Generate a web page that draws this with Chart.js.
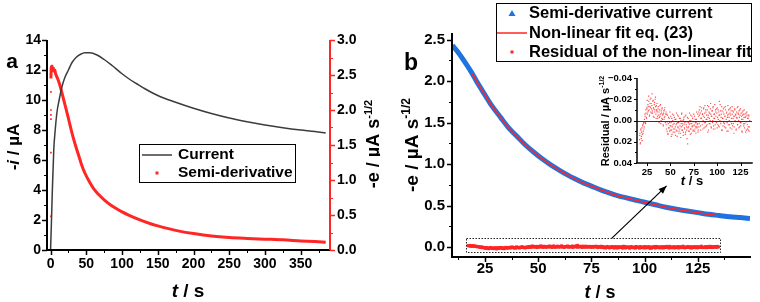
<!DOCTYPE html>
<html><head><meta charset="utf-8">
<script src="https://cdn.jsdelivr.net/npm/chart.js@4/dist/chart.umd.min.js"></script>
<style>
html,body{margin:0;padding:0;background:#fff;width:760px;height:302px;overflow:hidden}
.box{position:absolute}
</style></head><body>
<div class="box" style="left:0;top:0;width:380px;height:302px"><canvas id="ca"></canvas></div>
<div class="box" style="left:380px;top:0;width:380px;height:302px"><canvas id="cb"></canvas></div>
<div class="box" style="left:580px;top:60px;width:180px;height:130px"><canvas id="cc"></canvas></div>
<script>
// ---------- Panel a data ----------
const curT = [0,0.5,1.3,2.5,4.5,6.5,9,12,16,20,25,30,36,42,48,55,65,75,86,100,110,120,132,150,175,200,225,250,275,300,325,350,370,385];
const curI = [0,0.8,2.0,4.0,6.7,8.0,9.2,10.0,10.9,11.5,12.0,12.5,12.85,13.05,13.15,13.15,13.0,12.7,12.3,11.75,11.4,11.1,10.75,10.3,9.85,9.45,9.1,8.8,8.55,8.33,8.15,8.0,7.9,7.8];
const semiT = [0.5,1,1.5,2,3,4,5,6,7,9,11.6,14,16,18.5,21,24,27.8,31,34.7,39,44,48,53,60,67,75,85,100,110,125,140,150,165,180,200,225,250,275,300,325,350,370,385];
const semiE = [2.45,2.62,2.55,2.63,2.58,2.6,2.55,2.57,2.52,2.47,2.4,2.32,2.24,2.14,2.04,1.92,1.76,1.63,1.5,1.36,1.2,1.1,1.0,0.88,0.795,0.715,0.635,0.545,0.495,0.43,0.375,0.345,0.305,0.27,0.235,0.2,0.178,0.165,0.155,0.145,0.13,0.12,0.11];
const spikeT = [0.5,0.5,0.5,0.5,0.5,0.5];
const spikeE = [2.26,2.0,1.93,1.87,1.39,0.48];
const aTimeTicks = [0,50,100,150,200,250,300,350];
const aTimeMinor = [25,75,125,175,225,275,325,375];
const aCurTicks = [0,2,4,6,8,10,12,14];
const aCurMinor = [1,3,5,7,9,11,13];
const aSemiTicks = [0,0.5,1.0,1.5,2.0,2.5,3.0];
const aSemiMinor = [0.25,0.75,1.25,1.75,2.25,2.75];

// ---------- Panel b data ----------
const bT = [9.7,12,15,18.3,21,24.6,28,32.4,36,40.2,44,48.1,52,55.9,60,63.7,67,71.5,75,79.3,83,87.2,91,95,100,105,110,115,120,125,130,135,140,145,149.5];
const bE = [2.43,2.36,2.25,2.12,2.00,1.85,1.71,1.56,1.44,1.33,1.23,1.14,1.06,0.99,0.925,0.87,0.825,0.77,0.735,0.69,0.655,0.62,0.595,0.57,0.54,0.51,0.48,0.455,0.435,0.415,0.395,0.38,0.365,0.355,0.345];
const fitT = [19,21,24.6,28,32.4,36,40.2,44,48.1,52,55.9,60,63.7,67,71.5,75,79.3,83,87.2,91,95,100,105,110,115,120,125,130,133];
const fitE = [2.09,2.00,1.85,1.71,1.56,1.44,1.33,1.23,1.14,1.06,0.99,0.925,0.87,0.825,0.77,0.735,0.69,0.655,0.62,0.595,0.57,0.54,0.51,0.48,0.455,0.435,0.415,0.395,0.385];
// residuals sampled every 0.5 s, two interleaved read-outs (offset 0.25 s)
const residStart = 17, residStartB = 17.25, residStep = 0.5;
const resid = [
 0.018,0.012,0.021,0.009,0.015,0.007,0.013,0.004,0.010,0.002,0.006,
 0.001,-0.004,0.003,-0.007,-0.002,
 -0.011,-0.006,-0.015,-0.009,-0.018,-0.004,-0.013,-0.020,-0.008,-0.016,-0.011,-0.025,-0.007,-0.019,-0.012,-0.003,-0.017,-0.010,-0.022,-0.006,-0.014,-0.009,
 -0.008,-0.002,-0.013,-0.005,0.002,-0.010,-0.004,-0.015,0.000,-0.007,-0.011,-0.001,-0.006,0.005,-0.009,-0.003,-0.012,0.001,-0.006,
 0.004,-0.006,0.010,0.001,0.013,-0.003,0.007,0.002,-0.008,0.009,0.005,0.015,-0.002,0.006,0.000,0.011,-0.005,0.003,0.008,-0.001,
 0.014,0.004,-0.007,0.010,0.002,0.006,-0.004,0.012,0.001,0.008,-0.002,0.016,0.003,-0.006,0.009,0.005,0.000,0.011,-0.003,0.007,
 0.002,0.013,-0.005,0.004,0.009,0.001,0.022,-0.002,0.006,0.010,-0.007,0.003,0.008,0.000,0.012,-0.004,0.005,0.001,0.009,-0.006,
 0.004,0.010,-0.001,0.006,0.002,-0.008,0.007,0.003,0.011,
 -0.004,0.006,-0.010,0.001,-0.007,0.009,-0.002,-0.012,0.004,-0.006,0.000,-0.011,0.007,-0.003,-0.014,0.002,-0.008,0.005,-0.001,-0.010,
 0.011,-0.005,-0.013,0.003,-0.007,0.000,-0.016,0.006,-0.004,-0.009,0.002,-0.012,0.008,-0.002,-0.006,-0.015,0.004,-0.008,0.001,-0.011,
 0.007,-0.003,-0.010,0.005,-0.005,-0.018,0.000,-0.009,0.003,-0.006,-0.013,0.009,-0.002,-0.008,0.002,-0.012,0.006,-0.004,-0.010,0.001,
 -0.007,0.010,-0.003,-0.014,0.004,-0.006,0.000,-0.011,0.007,-0.005,-0.009,0.003,-0.013,0.005,-0.002,-0.008,0.012,-0.004,-0.010,0.001,
 -0.006,0.008,-0.003,-0.012,0.004,-0.007,0.000,-0.009,0.006,-0.005,-0.011,0.002,-0.004,0.010,-0.008,-0.001,-0.006,0.005,-0.010,0.003,
 -0.003,0.011,-0.007,0.001,-0.005,0.008,-0.002,0.009,-0.004,0.006
];
const residB = [
 0.014,0.022,0.008,0.017,0.011,0.019,0.005,0.012,0.003,0.008,-0.001,
 -0.006,0.002,-0.010,-0.003,-0.012,
 -0.019,-0.008,-0.013,-0.023,-0.010,-0.005,-0.016,-0.012,-0.021,-0.007,-0.014,-0.009,-0.018,-0.004,-0.011,-0.015,-0.008,-0.020,-0.013,-0.002,-0.010,-0.016,
 -0.004,-0.011,0.001,-0.008,-0.003,-0.014,-0.006,0.003,-0.009,-0.002,-0.012,-0.005,0.004,-0.007,-0.001,-0.010,-0.004,0.002,-0.008,
 0.008,0.001,-0.005,0.012,0.003,0.007,-0.002,0.010,0.005,-0.004,
 0.002,0.009,0.013,-0.006,0.004,0.008,0.001,-0.003,0.011,0.006,
 -0.001,0.009,0.003,0.015,-0.005,0.007,0.002,0.010,-0.002,0.005,
 0.012,0.000,0.006,-0.007,0.009,0.003,0.014,-0.001,0.004,0.008,
 -0.004,0.011,0.001,0.006,0.017,-0.003,0.007,0.002,0.010,0.004,
 0.000,0.013,-0.005,0.008,0.003,0.006,-0.002,0.010,0.001,0.005,
 -0.004,0.008,0.002,0.012,-0.001,0.006,0.004,-0.006,0.009,
 -0.008,0.003,-0.005,-0.013,0.005,-0.002,-0.009,0.001,-0.006,0.008,
 -0.004,-0.012,0.002,-0.007,0.006,-0.010,-0.001,-0.005,0.004,-0.014,
 -0.003,0.009,-0.008,-0.002,0.003,-0.011,-0.006,0.007,-0.004,-0.009,
 0.000,-0.013,0.005,-0.006,-0.002,0.008,-0.010,-0.004,0.002,-0.007,
 -0.012,0.004,-0.001,-0.008,0.006,-0.005,-0.015,0.001,-0.003,0.009,
 -0.009,-0.002,0.005,-0.011,-0.006,0.003,-0.004,-0.013,0.007,-0.001,
 -0.008,0.002,-0.005,0.010,-0.010,-0.003,0.004,-0.007,-0.012,0.001,
 -0.002,0.008,-0.006,-0.009,0.003,-0.004,0.006,-0.011,0.000,-0.005,
 0.009,-0.008,-0.002,0.004,-0.013,-0.006,0.007,-0.003,-0.010,0.002,
 0.005,-0.007,-0.001,0.011,-0.005,-0.009,0.003,-0.003,0.007,-0.006,
 0.001,-0.004,0.009,-0.008,0.004,-0.002,0.006,-0.005,0.010,0.000
];
const bTimeTicks = [25,50,75,100,125];
const bTimeMinor = [12.5,37.5,62.5,87.5,112.5,137.5];
const bETicks = [0,0.5,1.0,1.5,2.0,2.5];
const bEMinor = [0.25,0.75,1.25,1.75,2.25];
const insetResTicks = [-0.04,-0.02,0,0.02,0.04];
const insetResMinor = [-0.03,-0.01,0.01,0.03];
const insetTimeTicks = [25,50,75,100,125];

// ---------- helpers ----------
const FONT = "Arial, 'Liberation Sans', sans-serif";
const RED = 'rgb(255,38,38)';
const BLUE = 'rgb(30,115,225)';
const residPts = resid.map((r,k)=>({x: residStart + k*residStep, y: r}))
  .concat(residB.map((r,k)=>({x: residStartB + k*residStep, y: r})));
const xy = (xs, ys) => xs.map((x,k)=>({x, y: ys[k]}));

function tickMarks(ctx, scale, vals, len, color, lw){
  ctx.save(); ctx.strokeStyle=color; ctx.lineWidth=lw; ctx.beginPath();
  vals.forEach(v=>{
    const p = Math.round(scale.getPixelForValue(v))+0.5;
    if (scale.isHorizontal()){ ctx.moveTo(p, scale.top); ctx.lineTo(p, scale.top+len); }
    else if (scale.position==='left'){ ctx.moveTo(scale.right, p); ctx.lineTo(scale.right-len, p); }
    else { ctx.moveTo(scale.left, p); ctx.lineTo(scale.left+len, p); }
  });
  ctx.stroke(); ctx.restore();
}
function axisLine(ctx, scale, color, lw){
  const a = scale.chart.chartArea;
  ctx.save(); ctx.strokeStyle=color; ctx.lineWidth=lw; ctx.beginPath();
  if (scale.isHorizontal()){ ctx.moveTo(a.left-lw/2, a.bottom); ctx.lineTo(a.right+lw/2, a.bottom); }
  else if (scale.position==='left'){ ctx.moveTo(a.left, a.top); ctx.lineTo(a.left, a.bottom); }
  else { ctx.moveTo(a.right, a.top); ctx.lineTo(a.right, a.bottom); }
  ctx.stroke(); ctx.restore();
}
function richText(ctx, segs, cx, cy, size, rot){
  ctx.save(); ctx.translate(cx, cy); if (rot) ctx.rotate(rot);
  const fontFor = s => `${s.it?'italic ':''}bold ${s.sup? Math.round(size*0.62) : size}px ${FONT}`;
  let w = 0;
  segs.forEach(s=>{ ctx.font=fontFor(s); s.w=ctx.measureText(s.t).width; w+=s.w; });
  let x = -w/2; ctx.fillStyle='#000'; ctx.textBaseline='alphabetic'; ctx.textAlign='left';
  const base = size*0.36;
  segs.forEach(s=>{ ctx.font=fontFor(s); ctx.fillText(s.t, x, s.sup ? base-size*0.42 : base); x+=s.w; });
  ctx.restore();
}
function fixed(size){ return s => { if (s.isHorizontal()) s.height=size; else s.width=size; }; }
function setTicks(vals){ return s => { s.ticks = vals.map(v=>({value:v})); }; }
const base = {
  animation:false, responsive:true, maintainAspectRatio:false, events:[],
  plugins:{legend:{display:false}, tooltip:{enabled:false}}
};
const noGrid = {display:false, drawTicks:false};

// ---------- Chart A ----------
const decorA = {
  id:'decorA',
  afterDraw(chart){
    const ctx=chart.ctx, s=chart.scales;
    axisLine(ctx, s.x, '#000', 2); axisLine(ctx, s.y, '#000', 2); axisLine(ctx, s.y2, RED, 2);
    tickMarks(ctx, s.x, aTimeTicks, 5, '#000', 1.5); tickMarks(ctx, s.x, aTimeMinor, 3, '#000', 1);
    tickMarks(ctx, s.y, aCurTicks, 5, '#000', 1.5); tickMarks(ctx, s.y, aCurMinor, 3, '#000', 1);
    tickMarks(ctx, s.y2, aSemiTicks, 5, RED, 1.5); tickMarks(ctx, s.y2, aSemiMinor, 3, RED, 1);
    richText(ctx, [{t:'-'},{t:'i',it:true},{t:' / µA'}], 13, 147, 17, -Math.PI/2);
    richText(ctx, [{t:'-e / µA s'},{t:'-1/2',sup:true}], 373, 144, 18, -Math.PI/2);
    richText(ctx, [{t:'t',it:true},{t:' / s'}], 188, 290, 19, 0);
    richText(ctx, [{t:'a'}], 12, 60, 21, 0);
    // legend
    ctx.save();
    ctx.strokeStyle='#000'; ctx.lineWidth=1; ctx.strokeRect(139.5,144.5,156,38);
    ctx.strokeStyle='#3c3c3c'; ctx.lineWidth=1.5; ctx.beginPath(); ctx.moveTo(142,155); ctx.lineTo(172,155); ctx.stroke();
    ctx.fillStyle=RED; ctx.fillRect(155.5,171.5,3,3);
    ctx.fillStyle='#000'; ctx.font=`bold 15.5px ${FONT}`; ctx.textBaseline='middle';
    ctx.fillText('Current', 178, 155); ctx.fillText('Semi-derivative', 178, 173);
    ctx.restore();
  }
};
new Chart(document.getElementById('ca'), {
  type:'line',
  data:{datasets:[
    {label:'Current', data:xy(curT,curI), yAxisID:'y', borderColor:'#3c3c3c', borderWidth:1.5, pointRadius:0, cubicInterpolationMode:'monotone', order:1},
    {label:'Semi-derivative', data:xy(semiT,semiE), yAxisID:'y2', borderColor:RED, borderWidth:3, pointRadius:0, cubicInterpolationMode:'monotone', order:2},
    {label:'Semi-derivative early', data:xy(spikeT,spikeE), yAxisID:'y2', showLine:false, pointStyle:'rect', pointRadius:1.2, pointBackgroundColor:RED, pointBorderWidth:0, order:3}
  ]},
  options:{...base,
    layout:{padding:{top:40,left:0,right:0,bottom:0}},
    scales:{
      x:{type:'linear', position:'bottom', min:-5, max:391, afterFit:fixed(52), afterBuildTicks:setTicks(aTimeTicks),
         grid:noGrid, border:{display:false}, ticks:{padding:6, color:'#000', font:{family:FONT, size:14, weight:'bold'}, maxRotation:0}},
      y:{type:'linear', position:'left', min:0, max:14, afterFit:fixed(47), afterBuildTicks:setTicks(aCurTicks),
         grid:noGrid, border:{display:false}, ticks:{padding:6, color:'#000', font:{family:FONT, size:14, weight:'bold'}}},
      y2:{type:'linear', position:'right', min:0, max:3, afterFit:fixed(50), afterBuildTicks:setTicks(aSemiTicks),
         grid:noGrid, border:{display:false}, ticks:{padding:7, color:'#000', font:{family:FONT, size:14, weight:'bold'}, callback:v=>v.toFixed(1)}}
    }
  },
  plugins:[decorA]
});

// ---------- Chart B ----------
const decorB = {
  id:'decorB',
  afterDraw(chart){
    const ctx=chart.ctx, s=chart.scales;
    axisLine(ctx, s.x, '#000', 2); axisLine(ctx, s.y, '#000', 2);
    tickMarks(ctx, s.x, bTimeTicks, 5, '#000', 1.5); tickMarks(ctx, s.x, bTimeMinor, 3, '#000', 1);
    tickMarks(ctx, s.y, bETicks, 5, '#000', 1.5); tickMarks(ctx, s.y, bEMinor, 3, '#000', 1);
    richText(ctx, [{t:'-e / µA s'},{t:'-1/2',sup:true}], 31, 145, 19, -Math.PI/2);
    richText(ctx, [{t:'t',it:true},{t:' / s'}], 220, 292, 18, 0);
    richText(ctx, [{t:'b'}], 31, 62, 23, 0);
    // zoom box around residual band and arrow to the inset (data units)
    const X = v=>s.x.getPixelForValue(v), Y = v=>s.y.getPixelForValue(v);
    ctx.save();
    ctx.strokeStyle='#222'; ctx.lineWidth=1; ctx.setLineDash([1.5,1.5]);
    const x0=X(16.1), x1=X(135.4), y0=Y(0.105), y1=Y(-0.069);
    ctx.strokeRect(Math.round(x0)+0.5, Math.round(y0)+0.5, Math.round(x1-x0), Math.round(y1-y0));
    ctx.setLineDash([]);
    const ax0=X(84.5), ay0=Y(0.105), ax1=X(110.3), ay1=Y(0.737);
    ctx.strokeStyle='#000'; ctx.lineWidth=1.2; ctx.beginPath(); ctx.moveTo(ax0,ay0); ctx.lineTo(ax1,ay1); ctx.stroke();
    const ang=Math.atan2(ay1-ay0, ax1-ax0), L=8, W=3.2;
    ctx.fillStyle='#000'; ctx.beginPath(); ctx.moveTo(ax1,ay1);
    ctx.lineTo(ax1-L*Math.cos(ang)+W*Math.sin(ang), ay1-L*Math.sin(ang)-W*Math.cos(ang));
    ctx.lineTo(ax1-L*Math.cos(ang)-W*Math.sin(ang), ay1-L*Math.sin(ang)+W*Math.cos(ang));
    ctx.closePath(); ctx.fill();
    // legend
    ctx.strokeStyle='#000'; ctx.lineWidth=1; ctx.strokeRect(116.5,3.5,255,58);
    ctx.fillStyle=BLUE; ctx.beginPath(); ctx.moveTo(132,10); ctx.lineTo(135.5,16); ctx.lineTo(128.5,16); ctx.closePath(); ctx.fill();
    ctx.strokeStyle=RED; ctx.lineWidth=1.5; ctx.beginPath(); ctx.moveTo(117,33); ctx.lineTo(147,33); ctx.stroke();
    ctx.fillStyle=RED; ctx.fillRect(130.5,50.5,3,3);
    ctx.fillStyle='#000'; ctx.font=`bold 16.5px ${FONT}`; ctx.textBaseline='middle';
    ctx.fillText('Semi-derivative current', 149, 13);
    ctx.fillText('Non-linear fit eq. (23)', 149, 33);
    ctx.fillText('Residual of the non-linear fit', 149, 52);
    ctx.restore();
  }
};
new Chart(document.getElementById('cb'), {
  type:'line',
  data:{datasets:[
    {label:'Non-linear fit eq. (23)', data:xy(fitT,fitE), borderColor:RED, borderWidth:1.6, pointRadius:0, cubicInterpolationMode:'monotone', order:0},
    {label:'Residual of the non-linear fit', data:residPts, showLine:false, pointStyle:'rect', pointRadius:1.9, pointBackgroundColor:RED, pointBorderWidth:0, order:1},
    {label:'Semi-derivative current', data:xy(bT,bE), borderColor:BLUE, borderWidth:5, pointRadius:0, cubicInterpolationMode:'monotone', order:2}
  ]},
  options:{...base,
    layout:{padding:{top:33,left:0,right:10,bottom:0}},
    scales:{
      x:{type:'linear', position:'bottom', min:9.5, max:149.5, afterFit:fixed(45), afterBuildTicks:setTicks(bTimeTicks),
         grid:noGrid, border:{display:false}, ticks:{padding:3, color:'#000', font:{family:FONT, size:15, weight:'bold'}, maxRotation:0}},
      y:{type:'linear', position:'left', min:-0.12, max:2.58, afterFit:fixed(72), afterBuildTicks:setTicks(bETicks),
         grid:noGrid, border:{display:false}, ticks:{padding:7, color:'#000', font:{family:FONT, size:15, weight:'bold'}, callback:v=>v.toFixed(1)}}
    }
  },
  plugins:[decorB]
});

// ---------- Inset ----------
const decorC = {
  id:'decorC',
  afterDraw(chart){
    const ctx=chart.ctx, s=chart.scales, a=chart.chartArea;
    const z = Math.round(s.y.getPixelForValue(0))+0.5;
    ctx.save(); ctx.strokeStyle='#333'; ctx.lineWidth=1.2; ctx.beginPath(); ctx.moveTo(a.left,z); ctx.lineTo(a.right,z); ctx.stroke(); ctx.restore();
    axisLine(ctx, s.x, '#000', 1.5); axisLine(ctx, s.y, '#000', 1.5);
    tickMarks(ctx, s.x, insetTimeTicks, 3, '#000', 1);
    tickMarks(ctx, s.y, insetResTicks, 3, '#000', 1); tickMarks(ctx, s.y, insetResMinor, 2, '#000', 1);
    richText(ctx, [{t:'Residual / µA s'},{t:'-1/2',sup:true}], 25, 61, 11, -Math.PI/2);
    richText(ctx, [{t:'t',it:true},{t:' / s'}], 112, 120, 13, 0);
  }
};
new Chart(document.getElementById('cc'), {
  type:'scatter',
  data:{datasets:[
    {label:'Residual', data:residPts, pointStyle:'rect', pointRadius:0.8, pointBackgroundColor:'rgba(255,40,40,0.85)', pointBorderWidth:0}
  ]},
  options:{...base,
    layout:{padding:{top:18,left:0,right:8,bottom:0}},
    scales:{
      x:{type:'linear', position:'bottom', min:14.3, max:137.3, afterFit:fixed(27), afterBuildTicks:setTicks(insetTimeTicks),
         grid:noGrid, border:{display:false}, ticks:{padding:4, color:'#000', font:{family:FONT, size:9.5, weight:'bold'}, maxRotation:0}},
      y:{type:'linear', position:'left', reverse:true, min:-0.04, max:0.04, afterFit:fixed(57), afterBuildTicks:setTicks(insetResTicks),
         grid:noGrid, border:{display:false}, ticks:{padding:5, color:'#000', font:{family:FONT, size:9.5, weight:'bold'},
         callback:v=>(v<0?'\u2212':'')+Math.abs(v).toFixed(2)}}
    }
  },
  plugins:[decorC]
});
</script>
</body></html>
